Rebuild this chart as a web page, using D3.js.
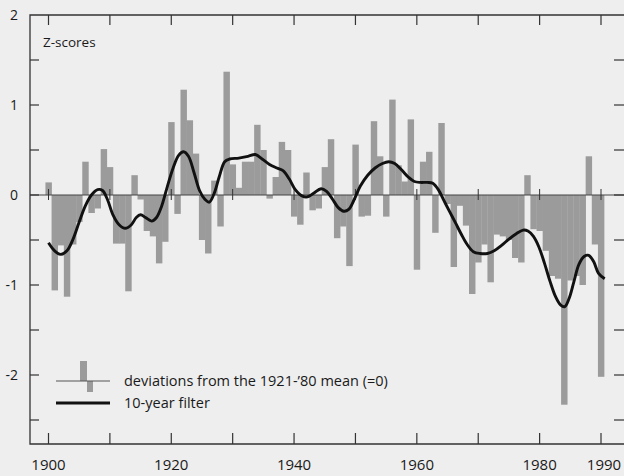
<!DOCTYPE html>
<html>
<head>
<meta charset="utf-8">
<script src="https://cdn.jsdelivr.net/npm/d3@7"></script>
<style>
	body { margin: 0; background: #eeeeee; }
	svg { display: block; }
	text { font-family: "Open Sans", "Noto Sans", sans-serif; fill: #1a1a1a; }
</style>
</head>
<body>
<div id="chart"></div>
<script>
'use strict';

// annual z-scores, 1900..1990
const years = d3.range(1900, 1991);
const zscores = [
	 0.14, -1.06, -0.56, -1.13, -0.55, -0.30,  0.37, -0.20, -0.15,  0.51,  // 1900s
	 0.31, -0.54, -0.54, -1.07,  0.22, -0.05, -0.40, -0.46, -0.76, -0.52,  // 1910s
	 0.81, -0.21,  1.17,  0.83,  0.46, -0.50, -0.65,  0.16, -0.35,  1.37,  // 1920s
	 0.34,  0.08,  0.37,  0.37,  0.78,  0.50, -0.04,  0.20,  0.59,  0.50,  // 1930s
	-0.24, -0.33,  0.25, -0.17, -0.15,  0.31,  0.62, -0.48, -0.35, -0.79,  // 1940s
	 0.56, -0.24, -0.23,  0.82,  0.43, -0.24,  1.06,  0.33,  0.15,  0.84,  // 1950s
	-0.83,  0.37,  0.48, -0.42,  0.80, -0.10, -0.80, -0.12, -0.34, -1.10,  // 1960s
	-0.75, -0.55, -0.97, -0.44, -0.46, -0.50, -0.70, -0.75,  0.22, -0.38,  // 1970s
	-0.40, -0.62, -0.90, -0.93, -2.33, -0.95, -0.90, -1.00,  0.43, -0.55,  // 1980s
	-2.02                                                                   // 1990
];

// 10-year filter
const filterYears = [
	1900, 1901, 1902, 1903, 1904, 1905, 1906, 1907, 1908, 1908.8, 1909.6,
	1910.5, 1911.5, 1912.5, 1913.5, 1914.3, 1915, 1915.8, 1916.8, 1917.6, 1918.4, 1919.3,
	1920.3, 1921.2, 1922, 1922.8, 1923.7, 1924.6, 1925.5, 1926.2, 1927, 1927.8, 1928.7, 1929.5,
	1931, 1932.5, 1933.7, 1934.8, 1936, 1937.2, 1938.2, 1939.2,
	1940.2, 1941.3, 1942.2, 1943.2, 1944.4, 1945.3, 1946.2, 1947.2, 1948.1, 1948.9, 1949.8,
	1950.8, 1952, 1953.2, 1954.4, 1955.4, 1956.4, 1957.5, 1958.6, 1959.6,
	1960.6, 1961.7, 1962.6, 1963.5, 1964.4, 1965.3, 1966.3, 1967.2, 1968.2, 1969.2,
	1970.3, 1971.5, 1972.6, 1973.8, 1975, 1976.2, 1977.3, 1978.1, 1979, 1979.9,
	1980.8, 1981.7, 1982.6, 1983.4, 1984.1, 1984.8, 1985.6, 1986.4, 1987.3, 1988, 1988.8, 1989.6,
	1990.6
];
const filterValues = [
	-0.53, -0.62, -0.66, -0.62, -0.49, -0.30, -0.12, 0.00, 0.06, 0.05, -0.05,
	-0.22, -0.33, -0.37, -0.33, -0.25, -0.22, -0.25, -0.29, -0.25, -0.13, 0.08,
	0.30, 0.44, 0.48, 0.43, 0.25, 0.05, -0.05, -0.08, 0.02, 0.20, 0.37, 0.40,
	0.41, 0.43, 0.45, 0.40, 0.34, 0.30, 0.27, 0.18,
	0.06, -0.01, -0.02, 0.02, 0.07, 0.04, -0.04, -0.14, -0.18, -0.16, -0.05,
	0.10, 0.22, 0.30, 0.35, 0.37, 0.35, 0.28, 0.20, 0.15,
	0.14, 0.14, 0.13, 0.06, -0.06, -0.18, -0.31, -0.43, -0.55, -0.63,
	-0.65, -0.65, -0.62, -0.56, -0.49, -0.43, -0.39, -0.40, -0.46, -0.58,
	-0.76, -0.96, -1.13, -1.22, -1.24, -1.15, -0.96, -0.77, -0.68, -0.67, -0.74, -0.87,
	-0.93
];

const xLabels = [1900, 1920, 1940, 1960, 1980, 1990];
const xTicks = d3.range(1900, 1991, 10);
const yLabels = [2, 1, 0, -1, -2];
const yTicks = [1.5, 1, 0.5, 0, -0.5, -1, -1.5, -2, -2.5];

const legendLabels = ["deviations from the 1921-\u201980 mean (=0)", "10-year filter"];

const width = 624, height = 476;
const frame = { left: 30, right: 624, top: 15, bottom: 444 };

const svg = d3.select("#chart")
	.append("svg")
		.attr("width", width)
		.attr("height", height)
	;

const x = d3.scaleLinear()
	.domain([1900, 1990])
	.range([48.5, 601])
	;
const y = d3.scaleLinear()
	.domain([-2, 2])
	.range([375, 15])
	;
const barW = x(1901) - x(1900);

// bars
svg.append("g")
	.selectAll("rect")
	.data(years)
	.join("rect")
		.attr("x", d => x(d) - barW / 2)
		.attr("width", barW + 0.3)
		.attr("y", (d, i) => y(Math.max(0, zscores[i])))
		.attr("height", (d, i) => Math.abs(y(zscores[i]) - y(0)))
		.attr("fill", "#9b9b9b")
	;

// zero line with decade marks
svg.append("line")
	.attr("x1", frame.left).attr("x2", frame.right)
	.attr("y1", y(0)).attr("y2", y(0))
	.attr("stroke", "#444").attr("stroke-width", 1.2)
	;
svg.append("g")
	.selectAll("line")
	.data(xTicks)
	.join("line")
		.attr("x1", d => x(d)).attr("x2", d => x(d))
		.attr("y1", y(0) - 6).attr("y2", y(0) + 5)
		.attr("stroke", "#333").attr("stroke-width", 1)
	;

// frame: left, top, bottom
svg.append("path")
	.attr("d", `M${frame.right},${frame.top}H${frame.left}V${frame.bottom}H${frame.right}`)
	.attr("fill", "none")
	.attr("stroke", "#333")
	.attr("stroke-width", 1.3)
	;

// inward ticks
const tickG = svg.append("g").attr("stroke", "#333").attr("stroke-width", 1.2);
tickG.selectAll("line.yl")
	.data(yTicks)
	.join("line")
		.attr("x1", frame.left).attr("x2", frame.left + 9)
		.attr("y1", d => y(d)).attr("y2", d => y(d))
	;
tickG.selectAll("line.yr")
	.data(yTicks)
	.join("line")
		.attr("x1", frame.right - 10).attr("x2", frame.right)
		.attr("y1", d => y(d)).attr("y2", d => y(d))
	;
tickG.selectAll("line.xt")
	.data(xTicks)
	.join("line")
		.attr("x1", d => x(d)).attr("x2", d => x(d))
		.attr("y1", frame.top).attr("y2", frame.top + 10)
	;
tickG.selectAll("line.xb")
	.data(xTicks)
	.join("line")
		.attr("x1", d => x(d)).attr("x2", d => x(d))
		.attr("y1", frame.bottom).attr("y2", frame.bottom - 11)
	;

// filter line
const lineGenerator = d3.line()
	.x(d => x(d[0]))
	.y(d => y(d[1]))
	.curve(d3.curveCatmullRom.alpha(0.5))
	;
svg.append("path")
	.datum(d3.zip(filterYears, filterValues))
	.attr("d", lineGenerator)
	.attr("fill", "none")
	.attr("stroke", "#111")
	.attr("stroke-width", 2.9)
	.attr("stroke-linejoin", "round")
	;

// axis labels
svg.append("g")
	.selectAll("text")
	.data(yLabels)
	.join("text")
		.attr("x", 18)
		.attr("y", d => y(d))
		.attr("dy", "0.35em")
		.attr("text-anchor", "end")
		.attr("font-size", 14)
		.text(d => d)
	;
svg.append("g")
	.selectAll("text")
	.data(xLabels)
	.join("text")
		.attr("x", d => x(d) + (d === 1990 ? 3 : 0))
		.attr("y", 465)
		.attr("dy", "0.35em")
		.attr("text-anchor", "middle")
		.attr("font-size", 15)
		.text(d => d)
	;

svg.append("text")
	.attr("x", 43)
	.attr("y", 42)
	.attr("dy", "0.35em")
	.attr("font-size", 13.5)
	.text("Z-scores")
	;

// legend
const legend = svg.append("g");
legend.append("rect")
	.attr("x", 80).attr("y", 361).attr("width", 7).attr("height", 20)
	.attr("fill", "#9b9b9b");
legend.append("rect")
	.attr("x", 87).attr("y", 381).attr("width", 6).attr("height", 11)
	.attr("fill", "#9b9b9b");
legend.append("line")
	.attr("x1", 56).attr("x2", 110).attr("y1", 381).attr("y2", 381)
	.attr("stroke", "#555").attr("stroke-width", 1);
legend.append("line")
	.attr("x1", 56).attr("x2", 110).attr("y1", 403).attr("y2", 403)
	.attr("stroke", "#111").attr("stroke-width", 3);
legend.selectAll("text")
	.data(legendLabels)
	.join("text")
		.attr("x", 124)
		.attr("y", (d, i) => 381 + i * 22)
		.attr("dy", "0.35em")
		.attr("font-size", 14.5)
		.text(d => d)
	;
</script>
</body>
</html>
